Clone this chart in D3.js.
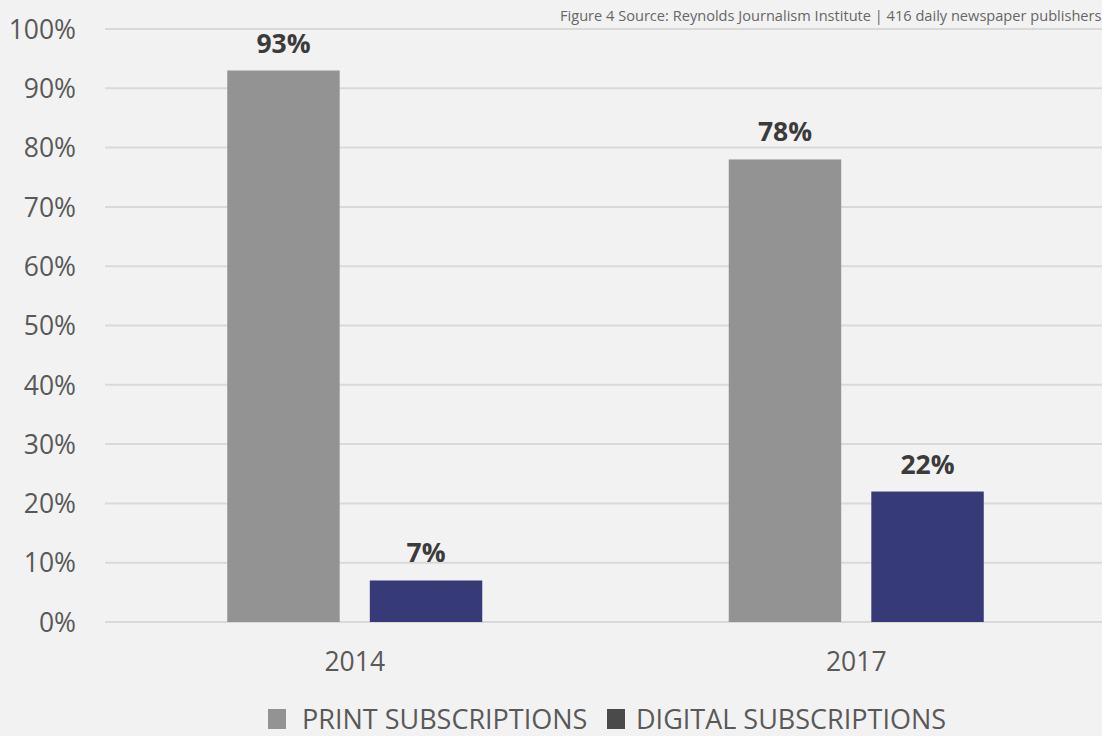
<!DOCTYPE html>
<html><head><meta charset="utf-8">
<script src="https://cdn.jsdelivr.net/npm/d3@7"></script>
<style>body{margin:0;background:#f2f2f2;overflow:hidden}svg{display:block}</style>
</head><body>
<svg id="c" width="1102" height="736"></svg>
<script>
const categories = ["2014", "2017"];
const seriesNames = ["PRINT SUBSCRIPTIONS", "DIGITAL SUBSCRIPTIONS"];
const printValues = [93, 78];
const digitalValues = [7, 22];
const yTicks = [0, 10, 20, 30, 40, 50, 60, 70, 80, 90, 100];
const sourceText = "Figure 4 Source: Reynolds Journalism Institute | 416 daily newspaper publishers";

const svg = d3.select("#c");
const W = 1102, H = 736;
svg.append("rect").attr("width", W).attr("height", H).attr("fill", "#f2f2f2");
const font = "'Open Sans', 'Noto Sans', sans-serif";

const y = d3.scaleLinear().domain([0, 100]).range([622, 29]);
const x0 = d3.scaleBand().domain(categories).range([104, 1107]).padding(0);
const x1 = d3.scaleBand().domain(seriesNames).range([0, 255]).paddingInner(30/142).paddingOuter(0);
const colors = d3.scaleOrdinal().domain(seriesNames).range(["#939393", "#363a77"]);

// gridlines
svg.append("g").selectAll("line").data(yTicks).join("line")
  .attr("x1", 105).attr("x2", W)
  .attr("y1", d => y(d)).attr("y2", d => y(d))
  .attr("stroke", "#d9d9d9").attr("stroke-width", 2);

// y axis labels
const yAxis = d3.axisLeft(y).tickValues(yTicks).tickFormat(d => d + "%").tickSize(0).tickPadding(0);
const yg = svg.append("g").attr("transform", "translate(76,0)").call(yAxis);
yg.select(".domain").remove();
yg.selectAll("text").attr("font-family", font).attr("font-size", 26.5).attr("fill", "#595959").attr("dy", "0.35em");

// x axis labels
const xAxis = d3.axisBottom(x0).tickSize(0).tickPadding(0);
const xg = svg.append("g").attr("transform", "translate(0,651)").call(xAxis);
xg.select(".domain").remove();
xg.selectAll("text").attr("font-family", font).attr("font-size", 26.5).attr("fill", "#595959").attr("dy", "0.75em");

const data = categories.map((c, i) => ({cat: c, vals: [
  {s: seriesNames[0], v: printValues[i]},
  {s: seriesNames[1], v: digitalValues[i]}
]}));

const groups = svg.append("g").selectAll("g").data(data).join("g")
  .attr("transform", d => `translate(${x0(d.cat) + (x0.bandwidth() - 255) / 2},0)`);

groups.selectAll("rect").data(d => d.vals).join("rect")
  .attr("x", d => x1(d.s)).attr("width", x1.bandwidth())
  .attr("y", d => y(d.v)).attr("height", d => y(0) - y(d.v))
  .attr("fill", d => colors(d.s));

groups.selectAll("text").data(d => d.vals).join("text")
  .attr("x", d => x1(d.s) + x1.bandwidth() / 2)
  .attr("y", d => y(d.v) - 18)
  .attr("text-anchor", "middle")
  .attr("font-family", font).attr("font-size", 26.5).attr("font-weight", "bold")
  .attr("fill", "#3b3b3b")
  .text(d => d.v + "%");

// legend
const leg = svg.append("g");
const legendColors = ["#939393", "#4a4a4a"];
const lx = [268, 607];
seriesNames.forEach((s, i) => {
  leg.append("rect").attr("x", lx[i]).attr("y", 709).attr("width", 18).attr("height", 20).attr("fill", legendColors[i]);
  leg.append("text").attr("x", lx[i] + (i === 0 ? 34 : 29)).attr("y", 729)
    .attr("font-family", font).attr("font-size", 27).attr("fill", "#595959").text(s);
});

// source
svg.append("text").attr("x", 560).attr("y", 21)
  .attr("font-family", font).attr("font-size", 14.6).attr("fill", "#666666").text(sourceText);
</script>
</body></html>
